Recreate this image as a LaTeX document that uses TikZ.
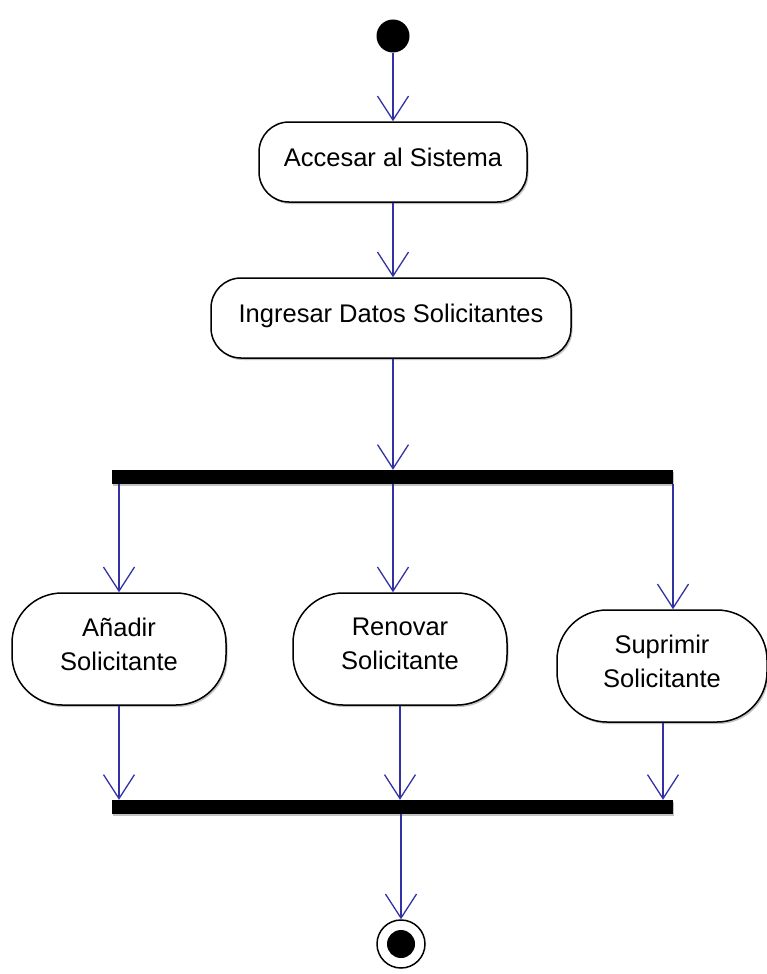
\documentclass[tikz,border=0pt]{standalone}
\usepackage{fontspec}
\setmainfont{Liberation Sans}
\usetikzlibrary{arrows.meta,shadows}
\definecolor{flowblue}{RGB}{50,50,165}
\begin{document}
\begin{tikzpicture}[x=1pt,y=-1pt,
  act/.style={draw=black, line width=1.5pt, fill=white, rounded corners=#1,
    align=center, inner sep=0pt, text depth=10pt, font=\fontsize{25.5}{34}\selectfont,
    drop shadow={shadow xshift=1.5pt, shadow yshift=-2pt, fill=black!40, opacity=0.6}},
  barnode/.style={fill=black, inner sep=0pt, minimum width=561pt, minimum height=14pt,
    drop shadow={shadow xshift=1pt, shadow yshift=-1.5pt, fill=black!40, opacity=0.6}},
  flow/.style={draw=flowblue, line width=1.3pt,
    -{Straight Barb[length=24pt,width=31pt,line width=1.3pt]}}]
\useasboundingbox (0,0) rectangle (767,974);

\node[circle, fill=black, inner sep=0pt, minimum size=33pt] (start) at (393,36) {};
\node[act=30pt, minimum width=268pt, minimum height=80pt] (acc) at (393,162) {Accesar al Sistema};
\node[act=30pt, minimum width=360pt, minimum height=80pt] (ing) at (391,318) {Ingresar Datos Solicitantes};
\node[barnode] (fork) at (392,477) {};
\node[act=50pt, minimum width=214pt, minimum height=112pt] (ana) at (119,649) {Añadir\\Solicitante};
\node[act=50pt, minimum width=214pt, minimum height=112pt] (ren) at (400,649) {Renovar\\Solicitante};
\node[act=50pt, minimum width=210pt, minimum height=112pt] (sup) at (662,666) {Suprimir\\Solicitante};
\node[barnode] (join) at (392,807) {};
\node[circle, draw=black, line width=1.5pt, fill=white, inner sep=0pt, minimum size=48pt] (end) at (401,944) {};
\node[circle, fill=black, inner sep=0pt, minimum size=28pt] (endin) at (end) {};

\path ([xshift=-7pt]ren.north) coordinate (rtop);
\path ([xshift=11pt]sup.north) coordinate (stop);
\path ([xshift=1pt]sup.south) coordinate (sbot);
\path ([xshift=2pt]ing.south) coordinate (ibot);

\draw[flow] (start) -- (acc);
\draw[flow] (acc.south) -- (acc.south |- ing.north);
\draw[flow] (ibot) -- (ibot |- fork.north);
\draw[flow] (fork.south -| ana.north) -- (ana.north);
\draw[flow] (fork.south -| rtop) -- (rtop);
\draw[flow] (fork.south -| stop) -- (stop);
\draw[flow] (ana.south) -- (ana.south |- join.north);
\draw[flow] (ren.south) -- (ren.south |- join.north);
\draw[flow] (sbot) -- (sbot |- join.north);
\draw[flow] (join.south -| end.north) -- (end.north);
\end{tikzpicture}
\end{document}
